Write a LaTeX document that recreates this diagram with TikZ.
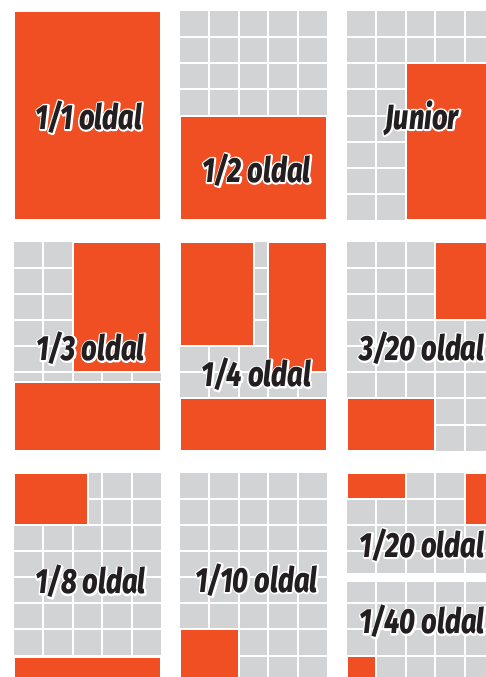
\documentclass[tikz,border=0pt]{standalone}
\usepackage{fontspec}
\usepackage{xcolor}
\usepackage{tikz}
\usetikzlibrary{positioning}

\IfFontExistsTF{Fira Sans ExtraBold Italic}
  {\newfontfamily\oldalbase[FakeStretch=0.78]{Fira Sans ExtraBold Italic}\newcommand{\oldalfont}{\oldalbase}}
  {\newfontfamily\oldalbase[FakeStretch=0.78]{Fira Sans}\newcommand{\oldalfont}{\oldalbase\bfseries\itshape}}
\definecolor{adorange}{HTML}{F04E23}
\definecolor{pagegray}{HTML}{D1D3D4}
\definecolor{labelink}{HTML}{231F20}

% white halo: stroked copy below, filled copy on top
\newcommand{\haloed}[1]{\leavevmode\rlap{\special{pdf:literal direct 1 Tr 3.4 w 1 j 1 1 1 RG}#1\special{pdf:literal direct 0 Tr}}#1}

% one page: 5 x 8 grid of columns
\newcommand{\pagegrid}{%
    \fill[pagegray] (0,0) rectangle (5,8);
    \foreach \c in {1,...,4} \draw[gridline] (\c,0) -- (\c,8);
    \foreach \r in {1,...,7} \draw[gridline] (0,\r) -- (5,\r);
}

\begin{document}
\begin{tikzpicture}[x=1pt, y=-1pt,
    pagecells/.style={x=29.4pt, y=-26.125pt},
    gridline/.style={white, line width=2pt},
    ad/.style={fill=adorange, draw=white, line width=2pt},
    sizelabel/.style={text=labelink, font=\oldalfont\fontsize{35}{35}\selectfont, inner sep=0pt}]
    \useasboundingbox (0,0) rectangle (486,677);
    \clip (0,0) rectangle (486,677);

    % first row
    \begin{scope}[shift={(14,11)}, pagecells]
        \filldraw[ad] (0,0) rectangle (5,8);
        \node[sizelabel] (full) at (2.55,4.06) {\haloed{1/1 oldal}};
    \end{scope}
    \begin{scope}[shift={(180,11)}, pagecells]
        \pagegrid
        \filldraw[ad] (0,4) rectangle (5,8);
        \node[sizelabel] (half) at (2.6,6.09) {\haloed{1/2 oldal}};
    \end{scope}
    \begin{scope}[shift={(347,11)}, pagecells]
        \pagegrid
        \filldraw[ad] (2,2) rectangle (5,8);
        \node[sizelabel] (junior) at (2.55,4.1) {\haloed{Junior}};
    \end{scope}

    % second row
    \begin{scope}[shift={(14,241.7)}, pagecells]
        \pagegrid
        \filldraw[ad] (2,0) rectangle (5,5);
        \filldraw[ad] (0,5.36) rectangle (5,8);
        \node[sizelabel] (third) at (2.6,4.08) {\haloed{1/3 oldal}};
    \end{scope}
    \begin{scope}[shift={(180,241.7)}, pagecells]
        \pagegrid
        \filldraw[ad] (0,0) rectangle (2.5,4);
        \filldraw[ad] (3,0) rectangle (5,5);
        \filldraw[ad] (0,6) rectangle (5,8);
        \node[sizelabel] (quarter) at (2.6,5.08) {\haloed{1/4 oldal}};
    \end{scope}
    \begin{scope}[shift={(347,241.7)}, pagecells]
        \pagegrid
        \filldraw[ad] (3,0) rectangle (5,3);
        \filldraw[ad] (0,6) rectangle (3,8);
        \node[sizelabel] (threetwentieth) at (2.55,4.08) {\haloed{3/20 oldal}};
    \end{scope}

    % third row
    \begin{scope}[shift={(14,472.7)}, pagecells]
        \pagegrid
        \filldraw[ad] (0,0) rectangle (2.53,2);
        \filldraw[ad] (0,7.05) rectangle (5,8);
        \node[sizelabel] (eighth) at (2.6,4.17) {\haloed{1/8 oldal}};
    \end{scope}
    \begin{scope}[shift={(180,472.7)}, pagecells]
        \pagegrid
        \filldraw[ad] (0,6) rectangle (2,8);
        \node[sizelabel] (tenth) at (2.6,4.1) {\haloed{1/10 oldal}};
    \end{scope}
    \begin{scope}[shift={(347,472.7)}, pagecells]
        \pagegrid
        \draw[white, line width=8.7pt] (0,4) -- (5,4);
        \filldraw[ad] (0,0) rectangle (2,1);
        \filldraw[ad] (4,0) rectangle (5,2);
        \filldraw[ad] (0,7) rectangle (1,8);
        \node[sizelabel] (twentieth) at (2.55,2.77) {\haloed{1/20 oldal}};
        \node[sizelabel] (fortieth) at (2.55,5.7) {\haloed{1/40 oldal}};
    \end{scope}
\end{tikzpicture}
\end{document}
